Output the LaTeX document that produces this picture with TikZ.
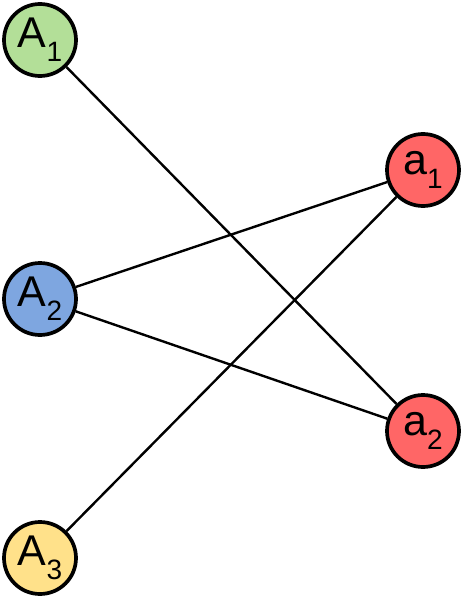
\documentclass[tikz,border=0pt]{standalone}
\usepackage{fontspec}
\setmainfont{Liberation Sans}
\definecolor{cgreen}{HTML}{B3DF98}
\definecolor{cblue}{HTML}{7EA6E0}
\definecolor{cyellow}{HTML}{FFE18A}
\definecolor{cred}{HTML}{FF6666}
\begin{document}
\begin{tikzpicture}[x=1pt,y=-1pt,
  vert/.style={circle,draw=black,line width=3.7pt,minimum size=72pt,inner sep=0pt,font=\fontsize{43}{43}\selectfont},
  edge/.style={line width=2.4pt,black}]
\useasboundingbox (0,0) rectangle (462,599);
\newcommand{\lab}[2]{#1\raisebox{-14pt}{\fontsize{28}{28}\selectfont #2}}
\node[vert,fill=cgreen] (A1) at (40,40) {\lab{A}{1}};
\node[vert,fill=cblue] (A2) at (40,299) {\lab{A}{2}};
\node[vert,fill=cyellow] (A3) at (40,558) {\lab{A}{3}};
\node[vert,fill=cred] (a1) at (423,170) {\lab{a}{1}};
\node[vert,fill=cred] (a2) at (423,431) {\lab{a}{2}};
\draw[edge] (A1) -- (a2);
\draw[edge] (A2) -- (a1);
\draw[edge] (A2) -- (a2);
\draw[edge] (A3) -- (a1);
\end{tikzpicture}
\end{document}
